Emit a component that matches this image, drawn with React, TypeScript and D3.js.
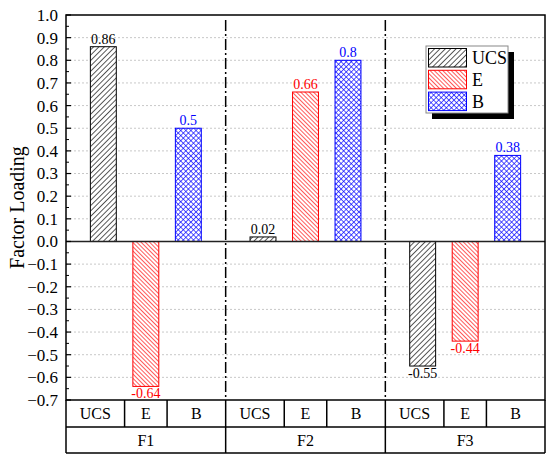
import React, { useEffect, useRef } from 'react';
import * as d3 from 'd3';

// chart values
const factors = ['F1', 'F2', 'F3'];
const series = ['UCS', 'E', 'B'];
const ucsValues = [0.86, 0.02, -0.55];
const eValues = [-0.64, 0.66, -0.44];
const bValues = [0.5, 0.8, 0.38];
const yTicks = d3.range(-7, 11).map(d => d / 10);

const W = 550;
const H = 462;
const FONT = '"Liberation Serif", "Times New Roman", serif';

const App: React.FC = () => {
  const svgRef = useRef<SVGSVGElement>(null);

  useEffect(() => {
    if (!svgRef.current) return;
    const svg = d3.select(svgRef.current);
    svg.selectAll('*').remove();

    const margin = { left: 66, right: 5, top: 15 };
    const plotBottom = 400;
    const row1 = 427;
    const row2 = 453;

    const y = d3.scaleLinear().domain([-0.7, 1.0]).range([plotBottom, margin.top]);
    const xGroup = d3.scaleBand().domain(factors).range([margin.left, W - margin.right]);
    const gw = xGroup.bandwidth();
    const inner = d3.scaleBand().domain(series).range([0, 127.5]).paddingInner(0.39).paddingOuter(0.195);
    const innerOffset = (gw - 127.5) / 2;
    const barX = (f: string, s: string) => (xGroup(f) ?? 0) + innerOffset + (inner(s) ?? 0);

    const colors: Record<string, string> = { UCS: '#000000', E: '#ff0000', B: '#0000ff' };
    const values: Record<string, number[]> = { UCS: ucsValues, E: eValues, B: bValues };

    // patterns
    const defs = svg.append('defs');
    const hatch = (id: string, color: string, angle: number, gap: number, cross = false) => {
      const p = defs.append('pattern')
        .attr('id', id)
        .attr('patternUnits', 'userSpaceOnUse')
        .attr('width', gap)
        .attr('height', gap)
        .attr('patternTransform', `rotate(${angle})`);
      p.append('rect').attr('width', gap).attr('height', gap).attr('fill', '#fff');
      p.append('line').attr('x1', 0).attr('y1', 0).attr('x2', 0).attr('y2', gap)
        .attr('stroke', color).attr('stroke-width', 1.3);
      if (cross) {
        p.append('line').attr('x1', 0).attr('y1', 0).attr('x2', gap).attr('y2', 0)
          .attr('stroke', color).attr('stroke-width', 1.3);
      }
    };
    hatch('pat-UCS', '#000', 45, 3.8);
    hatch('pat-E', '#ff0000', -45, 3.0);
    hatch('pat-B', '#0000ff', 45, 3.6, true);

    svg.append('rect').attr('width', W).attr('height', H).attr('fill', '#fff');

    // grid lines
    svg.append('g')
      .selectAll('line')
      .data(yTicks.filter(t => t > -0.7 && t < 1.0 && Math.abs(t) > 1e-9))
      .join('line')
      .attr('x1', margin.left)
      .attr('x2', W - margin.right)
      .attr('y1', d => y(d))
      .attr('y2', d => y(d))
      .attr('stroke', '#c8c8c8')
      .attr('stroke-width', 1)
      .attr('stroke-dasharray', '2,2');

    // bars
    series.forEach(s => {
      svg.append('g')
        .selectAll('rect')
        .data(factors.map((f, i) => ({ f, v: values[s][i] })))
        .join('rect')
        .attr('x', d => barX(d.f, s))
        .attr('width', inner.bandwidth())
        .attr('y', d => y(Math.max(0, d.v)))
        .attr('height', d => Math.abs(y(d.v) - y(0)))
        .attr('fill', `url(#pat-${s})`)
        .attr('stroke', colors[s])
        .attr('stroke-width', 1);

      svg.append('g')
        .selectAll('text')
        .data(factors.map((f, i) => ({ f, v: values[s][i] })))
        .join('text')
        .attr('x', d => barX(d.f, s) + inner.bandwidth() / 2)
        .attr('y', d => (d.v >= 0 ? y(d.v) - 3 : y(d.v) + 12))
        .attr('text-anchor', 'middle')
        .attr('font-family', FONT)
        .attr('font-size', 14)
        .attr('fill', colors[s])
        .text(d => String(d.v));
    });

    // zero line
    svg.append('line')
      .attr('x1', margin.left).attr('x2', W - margin.right)
      .attr('y1', y(0)).attr('y2', y(0))
      .attr('stroke', '#222').attr('stroke-width', 1.5);

    // group separators (dash-dot)
    svg.append('g')
      .selectAll('line')
      .data(factors.slice(1))
      .join('line')
      .attr('x1', d => xGroup(d) ?? 0)
      .attr('x2', d => xGroup(d) ?? 0)
      .attr('y1', margin.top + 5)
      .attr('y2', plotBottom)
      .attr('stroke', '#000')
      .attr('stroke-width', 1.5)
      .attr('stroke-dasharray', '11,3,2,3');

    // y axis ticks (inward)
    const axis = svg.append('g');
    axis.selectAll('line.major')
      .data(yTicks)
      .join('line')
      .attr('class', 'major')
      .attr('x1', margin.left).attr('x2', margin.left + 5)
      .attr('y1', d => y(d)).attr('y2', d => y(d))
      .attr('stroke', '#000').attr('stroke-width', 1.2);
    axis.selectAll('line.minor')
      .data(yTicks.slice(0, -1).map(d => d + 0.05))
      .join('line')
      .attr('class', 'minor')
      .attr('x1', margin.left).attr('x2', margin.left + 3)
      .attr('y1', d => y(d)).attr('y2', d => y(d))
      .attr('stroke', '#000').attr('stroke-width', 1);
    const fmt = (d: number) => (d < -1e-9 ? '\u2212' + Math.abs(d).toFixed(1) : Math.abs(d).toFixed(1));
    axis.selectAll('text')
      .data(yTicks)
      .join('text')
      .attr('x', margin.left - 8)
      .attr('y', d => y(d))
      .attr('dy', '0.35em')
      .attr('text-anchor', 'end')
      .attr('font-family', FONT)
      .attr('font-size', 17)
      .text(d => fmt(d));

    svg.append('text')
      .attr('transform', `translate(24,${(margin.top + plotBottom) / 2}) rotate(-90)`)
      .attr('text-anchor', 'middle')
      .attr('font-family', FONT)
      .attr('font-size', 20)
      .text('Factor Loading');

    // category table under the plot
    const table = svg.append('g').attr('stroke', '#000').attr('stroke-width', 1.5);
    [row1, row2].forEach(ry => {
      table.append('line').attr('x1', margin.left).attr('x2', W - margin.right).attr('y1', ry).attr('y2', ry);
    });
    factors.forEach(f => {
      const gx = xGroup(f) ?? 0;
      const centers = series.map(s => barX(f, s) + inner.bandwidth() / 2);
      const bounds = [gx, (centers[0] + centers[1]) / 2, (centers[1] + centers[2]) / 2, gx + gw];
      bounds.slice(1, 3).forEach(bx => {
        table.append('line').attr('x1', bx).attr('x2', bx).attr('y1', plotBottom).attr('y2', row1);
      });
      series.forEach((s, i) => {
        svg.append('text')
          .attr('x', (bounds[i] + bounds[i + 1]) / 2)
          .attr('y', (plotBottom + row1) / 2)
          .attr('dy', '0.35em')
          .attr('text-anchor', 'middle')
          .attr('font-family', FONT)
          .attr('font-size', 16)
          .text(s);
      });
      svg.append('text')
        .attr('x', gx + gw / 2)
        .attr('y', (row1 + row2) / 2)
        .attr('dy', '0.35em')
        .attr('text-anchor', 'middle')
        .attr('font-family', FONT)
        .attr('font-size', 16)
        .text(f);
    });
    factors.slice(1).forEach(f => {
      const gx = xGroup(f) ?? 0;
      table.append('line').attr('x1', gx).attr('x2', gx).attr('y1', plotBottom).attr('y2', row2);
    });

    // frame
    svg.append('rect')
      .attr('x', margin.left).attr('y', margin.top)
      .attr('width', W - margin.right - margin.left)
      .attr('height', plotBottom - margin.top)
      .attr('fill', 'none').attr('stroke', '#000').attr('stroke-width', 1.5);
    table.append('line').attr('x1', margin.left).attr('x2', margin.left).attr('y1', plotBottom).attr('y2', row2);
    table.append('line').attr('x1', W - margin.right).attr('x2', W - margin.right).attr('y1', plotBottom).attr('y2', row2);

    // legend
    const lg = svg.append('g').attr('transform', 'translate(426,46)');
    lg.append('rect').attr('x', 6).attr('y', 6).attr('width', 82).attr('height', 67).attr('fill', '#000');
    lg.append('rect').attr('width', 82).attr('height', 67).attr('fill', '#fff')
      .attr('stroke', '#888').attr('stroke-width', 1);
    series.forEach((s, i) => {
      const ly = 2.5 + i * 21.8;
      lg.append('rect')
        .attr('x', 2.5).attr('y', ly)
        .attr('width', 38).attr('height', 18.5)
        .attr('fill', `url(#pat-${s})`)
        .attr('stroke', colors[s]).attr('stroke-width', 1);
      lg.append('text')
        .attr('x', 46).attr('y', ly + 9.5)
        .attr('dy', '0.35em')
        .attr('font-family', FONT)
        .attr('font-size', 18)
        .attr('fill', '#000')
        .text(s);
    });
  }, []);

  return (
    <svg
      ref={svgRef}
      width={W}
      height={H}
      style={{ position: 'absolute', left: 0, top: 0, display: 'block' }}
    />
  );
};

export default App;
